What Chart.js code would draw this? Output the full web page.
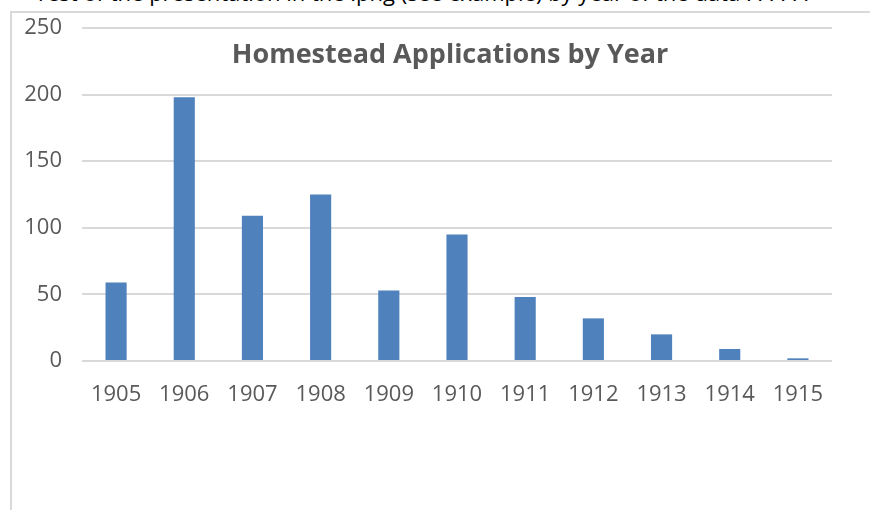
<!DOCTYPE html>
<html>
<head>
<meta charset="utf-8">
<script src="https://cdn.jsdelivr.net/npm/chart.js@4.4.1/dist/chart.umd.min.js"></script>
<style>
  html, body { margin: 0; padding: 0; background: #fff; }
  #wrap { position: relative; width: 870px; height: 510px; overflow: hidden; background: #fff; }
  #toptext { position: absolute; left: 38px; top: -23px; font-family: "Open Sans", sans-serif; font-size: 22px; color: #000; white-space: nowrap; }
  #frame { position: absolute; left: 10px; top: 11px; width: 870px; height: 520px; border-left: 2px solid #d9d9d9; border-top: 2px solid #d9d9d9; }
  #title { position: absolute; left: 0; width: 900px; top: 34px; text-align: center; font-family: "Open Sans", sans-serif; font-weight: bold; font-size: 27px; color: #595959; }
  canvas { position: absolute; left: 0; top: 0; }
</style>
</head>
<body>
<div id="wrap">
  <div id="toptext">rest of the presentation in the .png (see example) by year of the data . . . . . .</div>
  <div id="frame"></div>
  <canvas id="c" width="870" height="510"></canvas>
  <div id="title">Homestead Applications by Year</div>
</div>
<script>
const years = ["1905","1906","1907","1908","1909","1910","1911","1912","1913","1914","1915"];
const applications = [59, 198, 109, 125, 53, 95, 48, 32, 20, 9, 2];
const yTicks = [0, 50, 100, 150, 200, 250];

new Chart(document.getElementById('c'), {
  type: 'bar',
  data: {
    labels: years,
    datasets: [{
      data: applications,
      backgroundColor: '#4f81bd',
      borderWidth: 0,
      categoryPercentage: 1.0,
      barPercentage: 0.31
    }]
  },
  options: {
    responsive: false,
    animation: false,
    events: [],
    layout: { padding: { top: 28, right: 38, left: 0, bottom: 0 } },
    plugins: { legend: { display: false }, title: { display: false }, tooltip: { enabled: false } },
    scales: {
      x: {
        grid: { display: false },
        border: { display: false },
        ticks: { color: '#595959', font: { family: 'Open Sans', size: 22 }, padding: 13, maxRotation: 0 },
        afterFit: s => { s.height = 149; s.paddingLeft = 0; s.paddingRight = 0; }
      },
      y: {
        min: yTicks[0],
        max: yTicks[yTicks.length - 1],
        afterBuildTicks: s => { s.ticks = yTicks.map(v => ({ value: v })); },
        grid: { color: '#d9d9d9', lineWidth: 2, drawTicks: false },
        border: { display: false },
        ticks: { color: '#595959', font: { family: 'Open Sans', size: 22 }, padding: 20 },
        afterFit: s => { s.width = 82; s.paddingTop = 0; s.paddingBottom = 0; }
      }
    }
  }
});
</script>
</body>
</html>
